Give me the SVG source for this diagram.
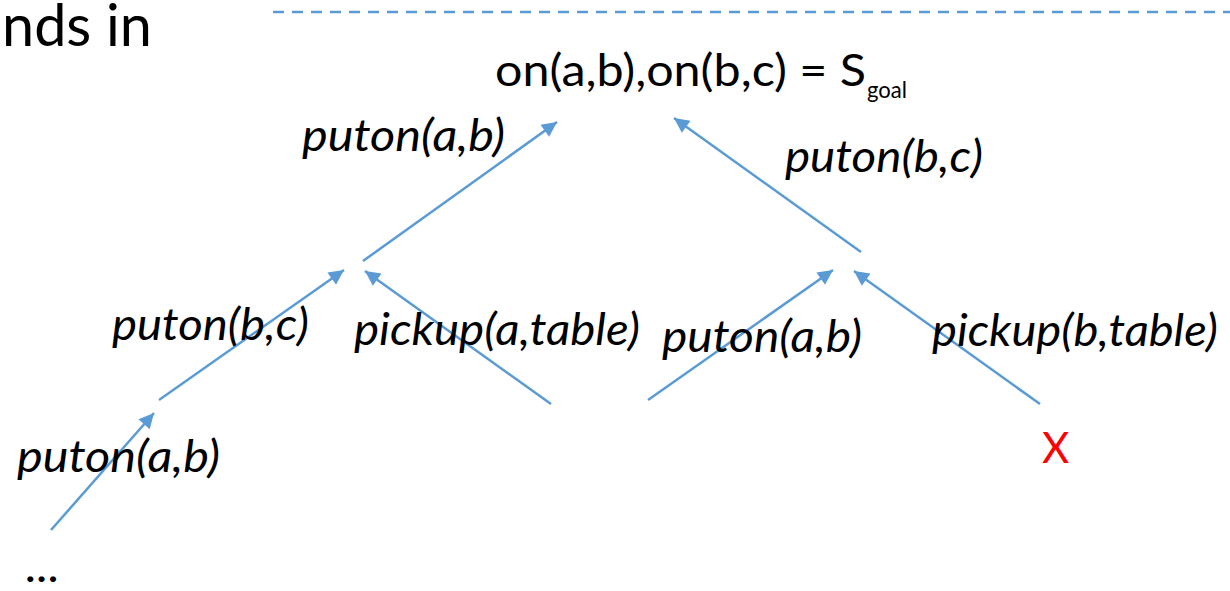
<svg xmlns="http://www.w3.org/2000/svg" width="1230" height="591" viewBox="0 0 1230 591">
<style>
text{font-family:Lato,"Open Sans","Liberation Sans",sans-serif;fill:#000}
.lbl{font-size:44px;font-style:italic}
.edge{stroke:#5B9BD5;stroke-width:2.5;fill:none;marker-end:url(#ah)}
</style>
<defs>
<marker id="ah" viewBox="0 0 10 10" refX="10" refY="5" markerUnits="userSpaceOnUse" markerWidth="17" markerHeight="15" orient="auto">
<path d="M0,0 L10,5 L0,10 Z" fill="#5B9BD5"/>
</marker>
</defs>
<rect width="1230" height="591" fill="#fff"/>
<g id="header">
<text x="2" y="46" font-size="59" textLength="150" lengthAdjust="spacingAndGlyphs">nds in</text>
<line x1="273" y1="12" x2="1230" y2="12" stroke="#5B9BD5" stroke-width="2.5" stroke-dasharray="11,8"/>
</g>
<g id="goal">
<text x="495" y="86" font-size="44" textLength="371" lengthAdjust="spacingAndGlyphs">on(a,b),on(b,c) = S</text>
<text x="867" y="98" font-size="24" textLength="40" lengthAdjust="spacingAndGlyphs">goal</text>
</g>
<g id="connectors">
<line class="edge" x1="363" y1="261" x2="557" y2="122"/>
<line class="edge" x1="861" y1="252" x2="674" y2="118"/>
<line class="edge" x1="159" y1="400" x2="344" y2="270"/>
<line class="edge" x1="551" y1="404" x2="365" y2="271"/>
<line class="edge" x1="648" y1="400" x2="833" y2="270"/>
<line class="edge" x1="1040" y1="404" x2="854" y2="271"/>
<line class="edge" x1="51" y1="530" x2="154" y2="413"/>
</g>
<g id="labels">
<text class="lbl" x="302" y="151" textLength="203" lengthAdjust="spacingAndGlyphs">puton(a,b)</text>
<text class="lbl" x="785" y="172" textLength="198" lengthAdjust="spacingAndGlyphs">puton(b,c)</text>
<text class="lbl" x="112" y="340" textLength="197" lengthAdjust="spacingAndGlyphs">puton(b,c)</text>
<text class="lbl" x="354" y="345" textLength="286" lengthAdjust="spacingAndGlyphs">pickup(a,table)</text>
<text class="lbl" x="662" y="352" textLength="200" lengthAdjust="spacingAndGlyphs">puton(a,b)</text>
<text class="lbl" x="932" y="346" textLength="286" lengthAdjust="spacingAndGlyphs">pickup(b,table)</text>
<text class="lbl" x="17" y="472" textLength="203" lengthAdjust="spacingAndGlyphs">puton(a,b)</text>
<text class="lbl" x="26" y="582" textLength="34" lengthAdjust="spacingAndGlyphs">...</text>
</g>
<g id="dead-end">
<text x="1042" y="463" font-size="42" style="fill:#FF0000">X</text>
</g>
</svg>
